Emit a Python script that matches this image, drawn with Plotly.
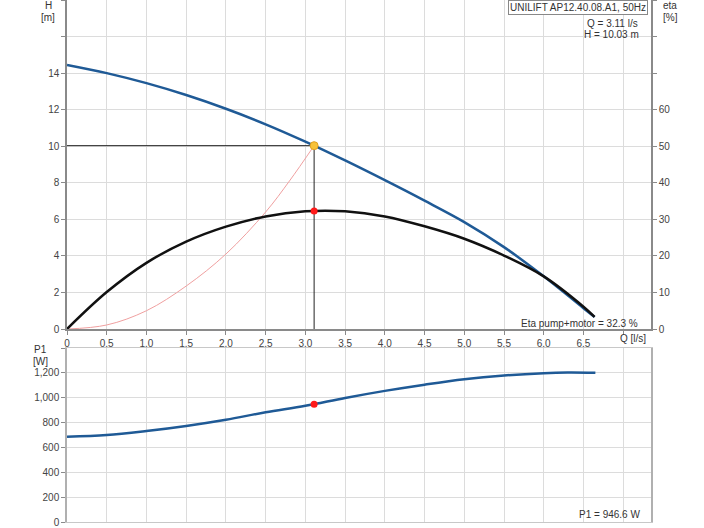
import plotly.graph_objects as go

# Pump curve data
q_head = [0, 0.5, 1.0, 1.5, 2.0, 2.5, 3.0, 3.5, 4.0, 4.5, 5.0, 5.5, 6.0, 6.5, 6.64]
head = [14.45, 14.0, 13.45, 12.8, 12.05, 11.2, 10.25, 9.22, 8.14, 7.02, 5.85, 4.48, 2.88, 1.14, 0.66]

q_eta = [0, 0.5, 1.0, 1.5, 2.0, 2.5, 3.0, 3.5, 4.0, 4.5, 5.0, 5.5, 6.0, 6.5, 6.64]
eta = [0, 10.1, 18.1, 23.9, 28.0, 30.8, 32.2, 32.2, 30.8, 28.1, 24.7, 20.1, 14.4, 6.1, 3.3]

q_sys = [0, 0.5, 1.0, 1.5, 2.0, 2.5, 2.8, 3.11]
h_sys = [0, 0.22, 1.0, 2.35, 4.1, 6.4, 8.1, 10.03]

q_p1 = [0, 0.5, 1.0, 1.5, 2.0, 2.5, 3.0, 3.5, 4.0, 4.5, 5.0, 5.5, 6.0, 6.3, 6.65]
p1 = [685, 699, 732, 773, 823, 883, 935, 998, 1055, 1105, 1149, 1179, 1197, 1202, 1200]

duty_q = 3.11
duty_h = 10.03
duty_eta = 32.3
duty_p1 = 946.6

x_ticks = [0, 0.5, 1.0, 1.5, 2.0, 2.5, 3.0, 3.5, 4.0, 4.5, 5.0, 5.5, 6.0, 6.5, 7.0]
x_labels = ["0", "0.5", "1.0", "1.5", "2.0", "2.5", "3.0", "3.5", "4.0", "4.5",
            "5.0", "5.5", "6.0", "6.5", ""]
h_ticks = [0, 2, 4, 6, 8, 10, 12, 14, 16, 18]
h_labels = ["0", "2", "4", "6", "8", "10", "12", "14", "", ""]
eta_ticks = [0, 10, 20, 30, 40, 50, 60, 70, 80, 90]
eta_labels = ["0", "10", "20", "30", "40", "50", "60", "", "", ""]
p1_ticks = [0, 200, 400, 600, 800, 1000, 1200, 1400]
p1_labels = ["0", "200", "400", "600", "800", "1,000", "1,200", ""]

W, H = 704, 528
ML, MR, MT, MB = 67, 53, 0, 6
PW, PH = W - ML - MR, H - MT - MB

BLUE = "#1f5a96"
GRID = "#dcdcdc"
AXIS = "#8a8a8a"
TXT = "#333333"
FONT = "Liberation Sans, Arial, sans-serif"


def px(x):
    return (x - ML) / PW


def py(y):
    return (H - MB - y) / PH


fig = go.Figure()

# operating point guide lines
fig.add_trace(go.Scatter(x=[0, duty_q, duty_q], y=[duty_h, duty_h, 0], mode="lines",
                         line=dict(color="#222222", width=1), xaxis="x", yaxis="y"))
fig.add_trace(go.Scatter(x=q_sys, y=h_sys, mode="lines", line=dict(color="#f0a0a0", width=1),
                         line_shape="spline", xaxis="x", yaxis="y"))
fig.add_trace(go.Scatter(x=q_eta, y=eta, mode="lines", line=dict(color="#111111", width=2.5),
                         line_shape="spline", xaxis="x", yaxis="y3"))
fig.add_trace(go.Scatter(x=q_head, y=head, mode="lines", line=dict(color=BLUE, width=2.5),
                         line_shape="spline", xaxis="x", yaxis="y"))
fig.add_trace(go.Scatter(x=[duty_q], y=[duty_eta], mode="markers",
                         marker=dict(color="#ff1a1a", size=7), xaxis="x", yaxis="y3"))
fig.add_trace(go.Scatter(x=[duty_q], y=[duty_h], mode="markers",
                         marker=dict(color="#f7c23a", size=8, line=dict(color="#e0a020", width=1)),
                         xaxis="x", yaxis="y"))
fig.add_trace(go.Scatter(x=q_p1, y=p1, mode="lines", line=dict(color=BLUE, width=2.5),
                         line_shape="spline", xaxis="x2", yaxis="y2"))
fig.add_trace(go.Scatter(x=[duty_q], y=[duty_p1], mode="markers",
                         marker=dict(color="#ff1a1a", size=7), xaxis="x2", yaxis="y2"))

tick_font = dict(family=FONT, size=10, color="#444444")
top_dom = [py(329), 1]
bot_dom = [0, py(348)]

fig.update_layout(
    width=W, height=H,
    margin=dict(l=ML, r=MR, t=MT, b=MB),
    paper_bgcolor="white", plot_bgcolor="white",
    showlegend=False,
    font=dict(family=FONT, size=10, color=TXT),
    xaxis=dict(range=[0, 7.35], tickvals=x_ticks, ticktext=x_labels, domain=[0, 1],
               anchor="y", showgrid=True, gridcolor=GRID, zeroline=False,
               showline=True, linecolor=AXIS, linewidth=1.5, ticks="outside", ticklen=4,
               tickcolor=AXIS, tickfont=tick_font),
    yaxis=dict(range=[0, 18], tickvals=h_ticks, ticktext=h_labels, domain=top_dom,
               anchor="x", showgrid=True, gridcolor=GRID, zeroline=False,
               showline=True, linecolor=AXIS, linewidth=1.5, ticks="outside", ticklen=4,
               tickcolor=AXIS, tickfont=tick_font),
    yaxis3=dict(range=[0, 90], tickvals=eta_ticks, ticktext=eta_labels, overlaying="y",
                side="right", anchor="x", showgrid=False, zeroline=False,
                showline=True, linecolor=AXIS, linewidth=1.5, ticks="outside", ticklen=4,
                tickcolor=AXIS, tickfont=tick_font),
    xaxis2=dict(range=[0, 7.35], tickvals=x_ticks, showticklabels=False, domain=[0, 1],
                anchor="y2", showgrid=True, gridcolor=GRID, zeroline=False,
                showline=True, linecolor="#c8c8c8", mirror=True, ticks=""),
    yaxis2=dict(range=[0, 1400], tickvals=p1_ticks, ticktext=p1_labels, domain=bot_dom,
                anchor="x2", showgrid=True, gridcolor=GRID, zeroline=False,
                showline=True, linecolor="#b0b0b0", linewidth=1.5, mirror=True,
                ticks="outside", ticklen=4, tickcolor=AXIS, tickfont=tick_font),
)


def note(text, x, y, xanchor="center"):
    fig.add_annotation(text=text, x=px(x), y=py(y), xref="paper", yref="paper",
                       xanchor=xanchor, yanchor="middle", showarrow=False,
                       font=dict(family=FONT, size=10, color=TXT))


note("H", 48, 6)
note("[m]", 48, 17)
note("eta", 661, 6, "left")
note("[%]", 661, 17, "left")
note("P1", 40, 349)
note("[W]", 40, 361)
note("Q [l/s]", 633, 339)
note("Q = 3.11 l/s", 640, 23, "right")
note("H = 10.03 m", 641, 34, "right")
note("Eta pump+motor = 32.3 %", 640, 323, "right")
note("P1 = 946.6 W", 642, 514, "right")

fig.add_annotation(text="UNILIFT AP12.40.08.A1, 50Hz", x=px(648), y=py(0), xref="paper",
                   yref="paper", xanchor="right", yanchor="top", showarrow=False,
                   bordercolor="#888888", borderwidth=1, borderpad=1, bgcolor="white",
                   font=dict(family=FONT, size=10, color=TXT))

# page body has a default 8px margin; drop it so the chart sits at the window corner
fig.write_html("out.html", config={"displayModeBar": False},
               post_script="document.body.style.margin='0';")
